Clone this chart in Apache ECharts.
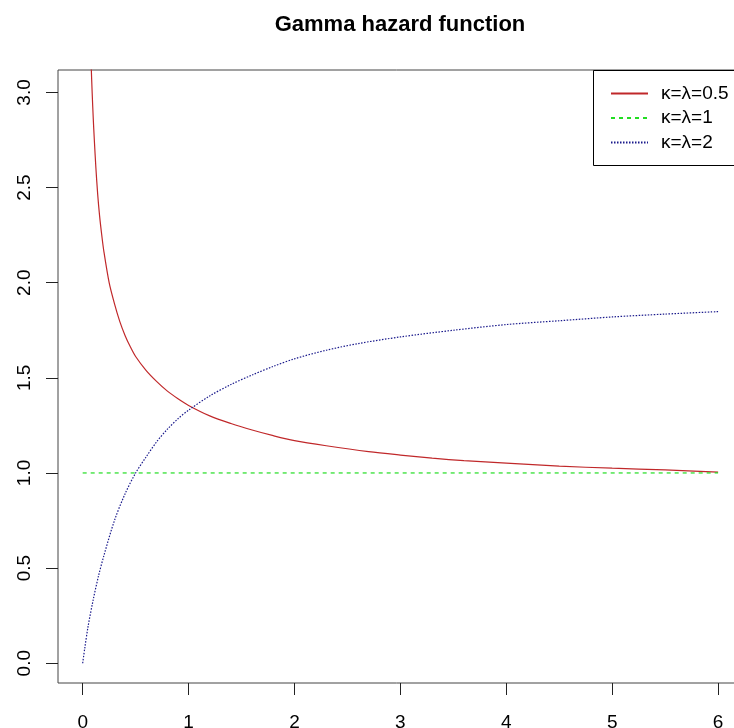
<!DOCTYPE html>
<html>
<head>
<meta charset="utf-8">
<script src="https://cdn.jsdelivr.net/npm/echarts@6/dist/echarts.min.js"></script>
<style>html,body{margin:0;padding:0;background:#fff;}#c{width:734px;height:728px;}</style>
</head>
<body>
<div id="c"></div>
<script>
var titleText = 'Gamma hazard function';
var seriesNames = ['κ=λ=0.5', 'κ=λ=1', 'κ=λ=2'];
var xTicks = [0, 1, 2, 3, 4, 5, 6];
var yTicks = [0, 0.5, 1, 1.5, 2, 2.5, 3];

var redT = [0.070, 0.080, 0.090, 0.100, 0.110, 0.125, 0.142, 0.160, 0.180, 0.200, 0.250, 0.300, 0.350, 0.400, 0.450, 0.500, 0.600, 0.700, 0.800, 0.900, 1.000, 1.200, 1.400, 1.600, 1.800, 2.000, 2.300, 2.700, 3.000, 3.300, 3.600, 4.000, 4.500, 5.000, 5.500, 6.000];
var redV = [3.345, 3.147, 2.993, 2.862, 2.750, 2.602, 2.463, 2.350, 2.251, 2.165, 2.000, 1.890, 1.797, 1.723, 1.663, 1.612, 1.538, 1.480, 1.430, 1.390, 1.355, 1.300, 1.260, 1.226, 1.196, 1.170, 1.143, 1.112, 1.094, 1.078, 1.065, 1.052, 1.036, 1.025, 1.016, 1.004];

var greenT = [0, 6];
var greenV = [1, 1];

var blueT = [0, 0.02, 0.05, 0.10, 0.15, 0.20, 0.30, 0.40, 0.50, 0.60, 0.70, 0.80, 0.90, 1.00, 1.20, 1.40, 1.60, 1.80, 2.00, 2.30, 2.60, 3.00, 3.50, 4.00, 4.50, 5.00, 5.50, 6.00];
var blueV = [0, 0.08, 0.19, 0.335, 0.46, 0.565, 0.75, 0.89, 1.00, 1.085, 1.165, 1.23, 1.285, 1.33, 1.405, 1.465, 1.515, 1.56, 1.60, 1.645, 1.68, 1.715, 1.75, 1.78, 1.80, 1.82, 1.835, 1.848];

function pairs(t, v) { return t.map(function (x, i) { return [x, v[i]]; }); }

var FONT = "'Liberation Sans', Arial, sans-serif";
var chart = echarts.init(document.getElementById('c'), null, {renderer: 'canvas'});
chart.setOption({
  animation: false,
  backgroundColor: '#ffffff',
  title: {
    text: titleText,
    left: 395, top: 9, textAlign: 'center',
    textStyle: {fontFamily: FONT, fontSize: 22, fontWeight: 'bold', color: '#000'}
  },
  grid: {
    left: 58, top: 70, right: -9.5, bottom: 45,
    outerBoundsMode: 'none', containLabel: false,
    show: true, borderColor: '#444', borderWidth: 1, backgroundColor: 'transparent'
  },
  legend: {
    orient: 'vertical', left: 610, top: 84, padding: 0,
    itemWidth: 37, itemHeight: 14, itemGap: 5.5,
    itemStyle: {opacity: 0},
    textStyle: {fontFamily: FONT, fontSize: 19, color: '#000', padding: [0, 0, 0, 8]},
    data: seriesNames
  },
  graphic: [{
    type: 'rect', left: 593, top: 70, z: 10, silent: true,
    shape: {width: 200, height: 95},
    style: {fill: 'transparent', stroke: '#000', lineWidth: 1}
  }],
  xAxis: {
    type: 'value', min: -0.233, max: 6.24,
    axisLine: {show: false, onZero: false},
    splitLine: {show: false},
    axisTick: {show: true, length: 12, inside: false, customValues: xTicks, lineStyle: {color: '#222'}},
    axisLabel: {customValues: xTicks, margin: 30, fontFamily: FONT, fontSize: 19, color: '#000', formatter: function (v) { return String(v); }}
  },
  yAxis: {
    type: 'value', min: -0.104, max: 3.118,
    axisLine: {show: false, onZero: false},
    splitLine: {show: false},
    axisTick: {show: true, length: 12, inside: false, customValues: yTicks, lineStyle: {color: '#222'}},
    axisLabel: {customValues: yTicks, rotate: 90, margin: 24, fontFamily: FONT, fontSize: 19, color: '#000', formatter: function (v) { return v.toFixed(1); }}
  },
  series: [
    {name: seriesNames[0], type: 'line', data: pairs(redT, redV), showSymbol: false, symbol: 'none', smooth: 0.3, clip: true,
     lineStyle: {color: '#c0282a', width: 1.2}, itemStyle: {color: '#c0282a'}},
    {name: seriesNames[1], type: 'line', data: pairs(greenT, greenV), showSymbol: false, symbol: 'none', clip: true,
     lineStyle: {color: '#22dd22', width: 1.2, type: [4, 4]}, itemStyle: {color: '#22dd22'}},
    {name: seriesNames[2], type: 'line', data: pairs(blueT, blueV), showSymbol: false, symbol: 'none', smooth: 0.3, clip: true,
     lineStyle: {color: '#1a1a8c', width: 1.2, type: [1.5, 1.5]}, itemStyle: {color: '#1a1a8c'}}
  ]
});
</script>
</body>
</html>
